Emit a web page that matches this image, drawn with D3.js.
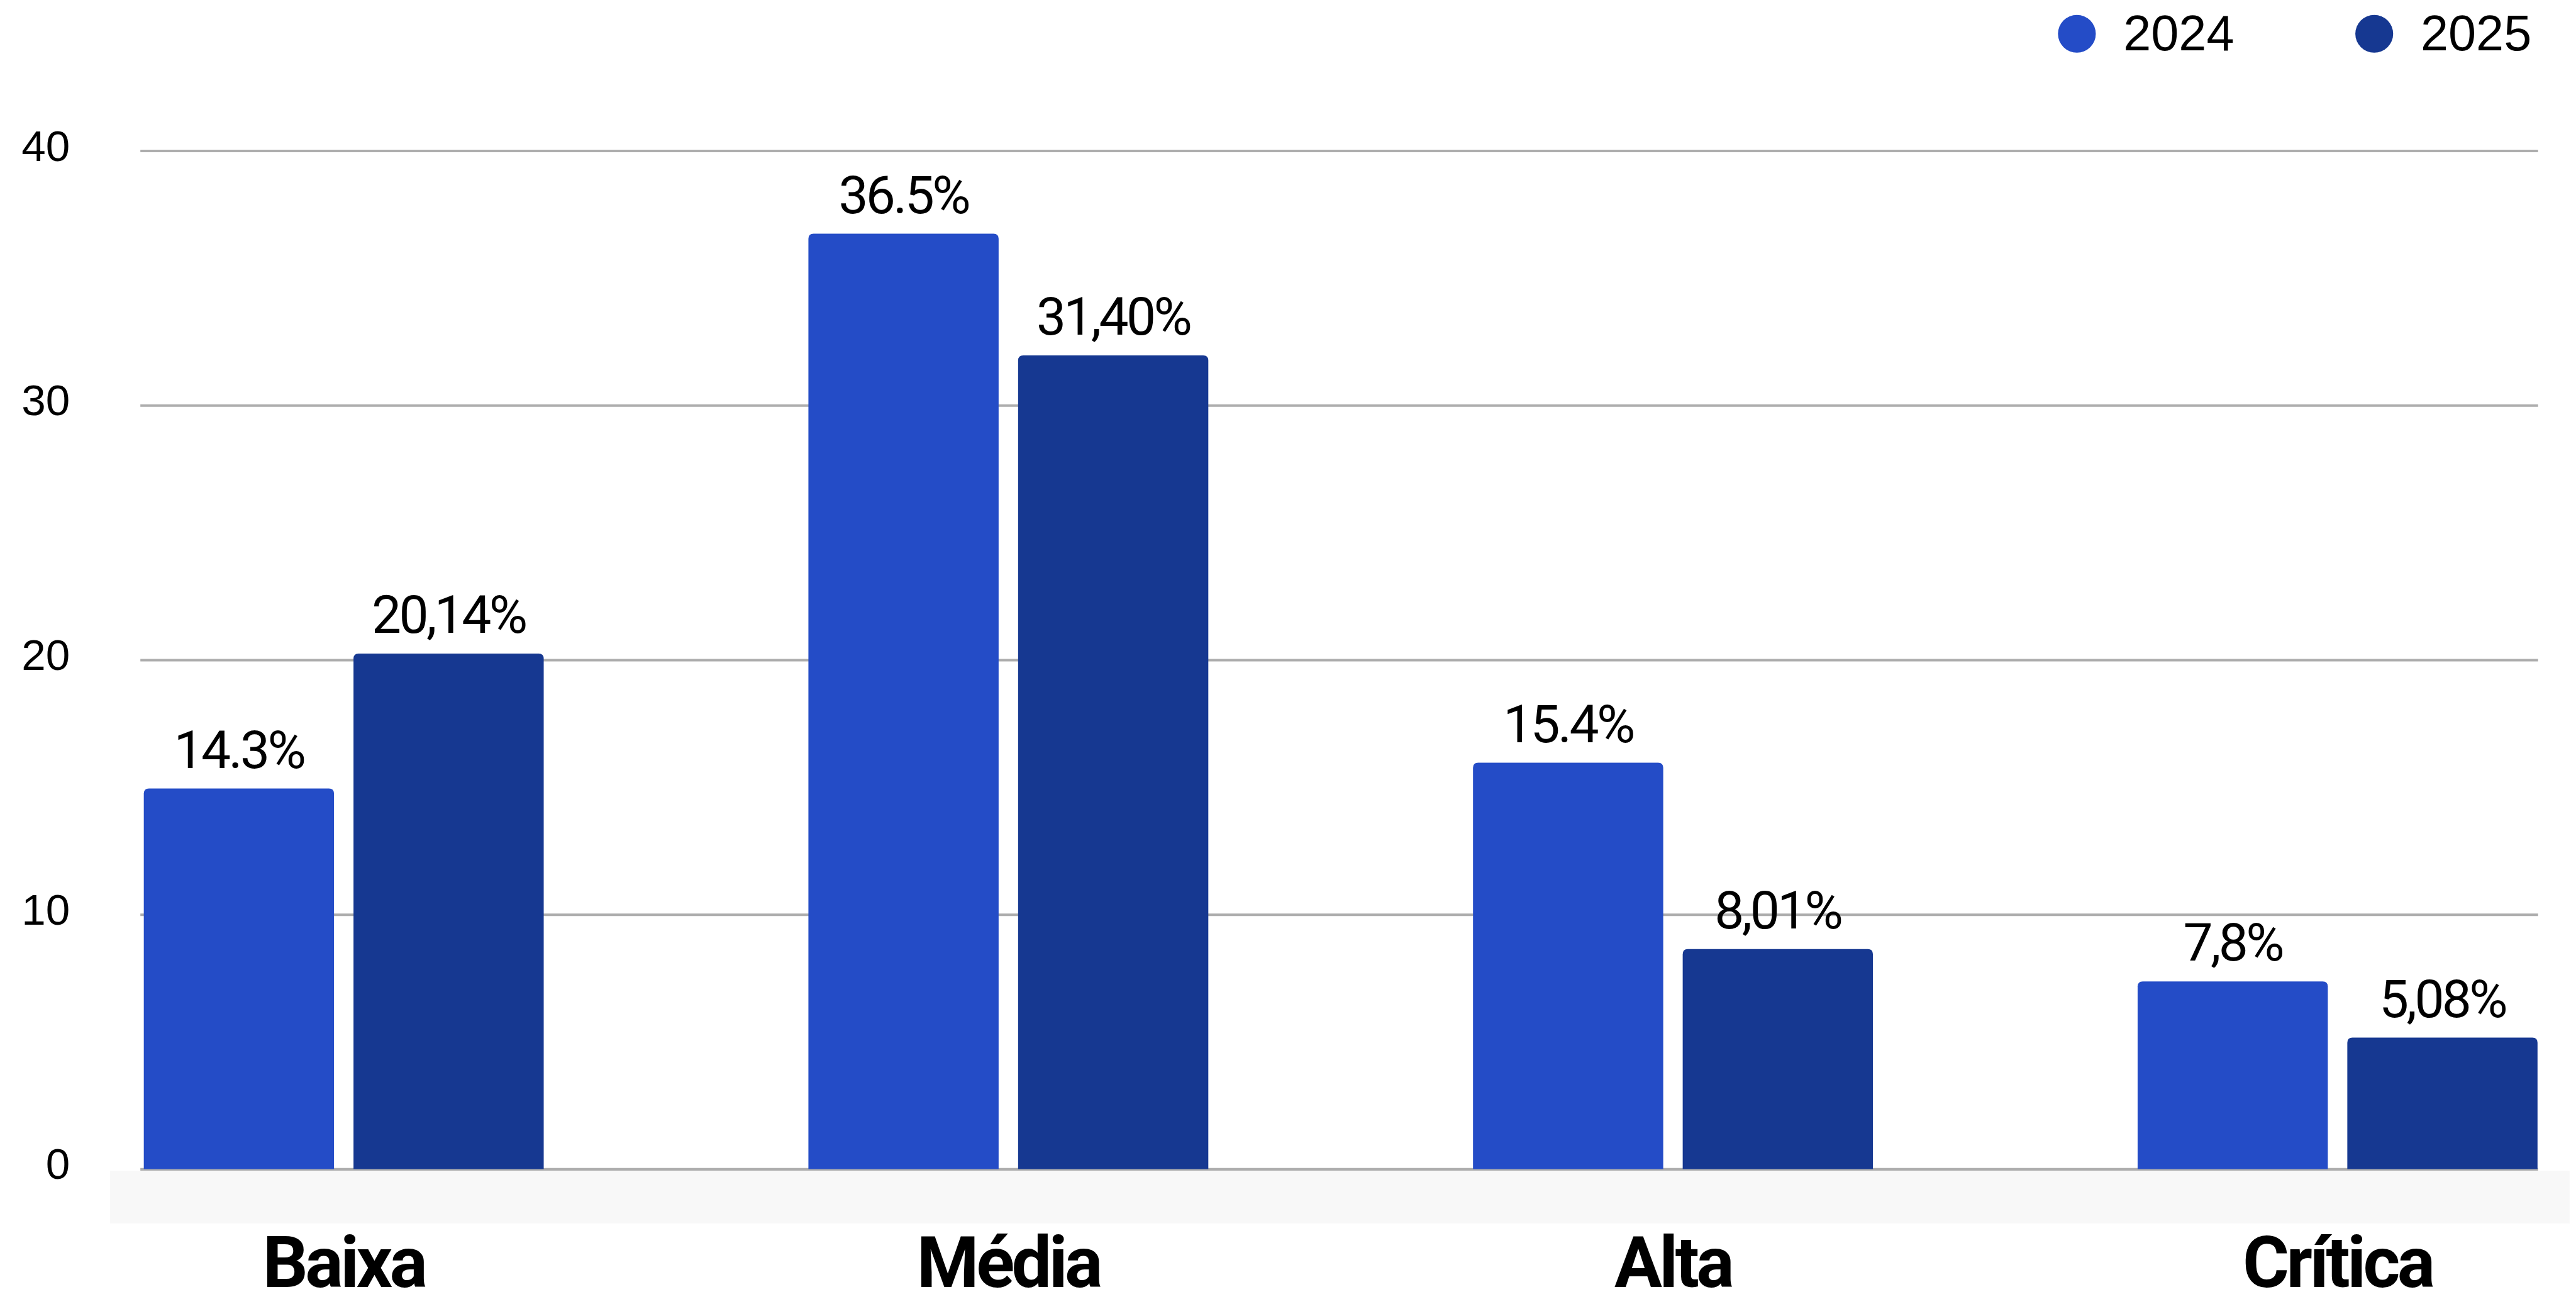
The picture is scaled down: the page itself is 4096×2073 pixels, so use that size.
<!DOCTYPE html>
<html>
<head>
<meta charset="utf-8">
<script src="https://cdn.jsdelivr.net/npm/d3@7"></script>
<style>
  html, body { margin: 0; padding: 0; background: #ffffff; overflow: hidden; }
  svg { display: block; }
</style>
</head>
<body>
<div id="chart"></div>
<script>
// ---- data ----
const categories = ['Baixa', 'Média', 'Alta', 'Crítica'];
const series = ['2024', '2025'];
const values2024 = [14.95, 36.74, 15.96, 7.37];
const values2025 = [20.25, 31.96, 8.64, 5.16];
const labels2024 = ['14.3%', '36.5%', '15.4%', '7,8%'];
const labels2025 = ['20,14%', '31,40%', '8,01%', '5,08%'];
const yTicks = [0, 10, 20, 30, 40];
const colors = ['#244cc7', '#163891'];

// ---- layout (reference pixel space, scaled to the window) ----
const S = 0.911;
const svg = d3.select('#chart').append('svg')
  .attr('width', 4096).attr('height', 2073);
const g = svg.append('g').attr('transform', `scale(${S})`);

const plotLeft = 245, plotRight = 4430;
const y = d3.scaleLinear().domain([0, 40]).range([2040, 263]);
const x = d3.scalePoint().domain(categories).range([600, 4080]);
const xs = d3.scaleBand().domain(series).range([-349, 349]).paddingInner(0.0929).paddingOuter(0);

// light band under the baseline
g.append('rect')
  .attr('x', 192).attr('y', 2043)
  .attr('width', 4485 - 192).attr('height', 92)
  .attr('fill', '#f8f8f8');

// y axis with gridlines
const axis = d3.axisLeft(y)
  .tickValues(yTicks)
  .tickSizeInner(-(plotRight - plotLeft))
  .tickSizeOuter(0)
  .tickPadding(123)
  .tickFormat(d3.format('d'));
const ag = g.append('g').attr('transform', `translate(${plotLeft},0)`).call(axis);
ag.select('.domain').remove();
ag.selectAll('.tick line').attr('stroke', '#adadad').attr('stroke-width', 4.5);
ag.selectAll('.tick text')
  .attr('fill', '#000')
  .attr('font-family', '"Liberation Sans", Arial, sans-serif')
  .attr('font-size', 76)
  .attr('dy', null)
  .attr('y', 17)
  .attr('text-anchor', 'end');

// bars
const rows = categories.map((c, i) => ({
  cat: c,
  items: [
    { s: series[0], v: values2024[i], label: labels2024[i], color: colors[0] },
    { s: series[1], v: values2025[i], label: labels2025[i], color: colors[1] }
  ]
}));

function topRounded(x0, y0, w, h, r) {
  return `M${x0},${y0 + h}V${y0 + r}Q${x0},${y0} ${x0 + r},${y0}H${x0 + w - r}Q${x0 + w},${y0} ${x0 + w},${y0 + r}V${y0 + h}Z`;
}

const grp = g.selectAll('.grp').data(rows).join('g')
  .attr('class', 'grp')
  .attr('transform', d => `translate(${x(d.cat)},0)`);

grp.selectAll('path.bar').data(d => d.items).join('path')
  .attr('class', 'bar')
  .attr('fill', d => d.color)
  .attr('d', d => topRounded(xs(d.s), y(d.v), xs.bandwidth(), y(0) - y(d.v), 9));

grp.selectAll('text.val').data(d => d.items).join('text')
  .attr('class', 'val')
  .attr('x', d => xs(d.s) + xs.bandwidth() / 2)
  .attr('y', d => y(d.v) - 36)
  .attr('text-anchor', 'middle')
  .attr('font-family', 'Roboto, "Noto Sans", sans-serif')
  .attr('font-size', 92)
  .attr('letter-spacing', -4)
  .attr('fill', '#000')
  .text(d => d.label);

// category labels
g.selectAll('text.cat').data(categories).join('text')
  .attr('class', 'cat')
  .attr('x', d => x(d))
  .attr('y', 2246)
  .attr('text-anchor', 'middle')
  .attr('font-family', 'Roboto, "Noto Sans", sans-serif')
  .attr('font-weight', 700)
  .attr('font-size', 124)
  .attr('letter-spacing', -5)
  .attr('fill', '#000')
  .text(d => d);

// legend
const legendX = d3.scalePoint().domain(series).range([3625, 4144]);
const lg = g.selectAll('g.leg').data(series).join('g')
  .attr('class', 'leg')
  .attr('transform', d => `translate(${legendX(d)},59)`);
lg.append('circle').attr('r', 33).attr('fill', (d, i) => colors[i]);
lg.append('text')
  .attr('x', 81).attr('y', 29)
  .attr('font-family', '"Liberation Sans", Arial, sans-serif')
  .attr('font-size', 87)
  .attr('fill', '#000')
  .text(d => d);
</script>
</body>
</html>
